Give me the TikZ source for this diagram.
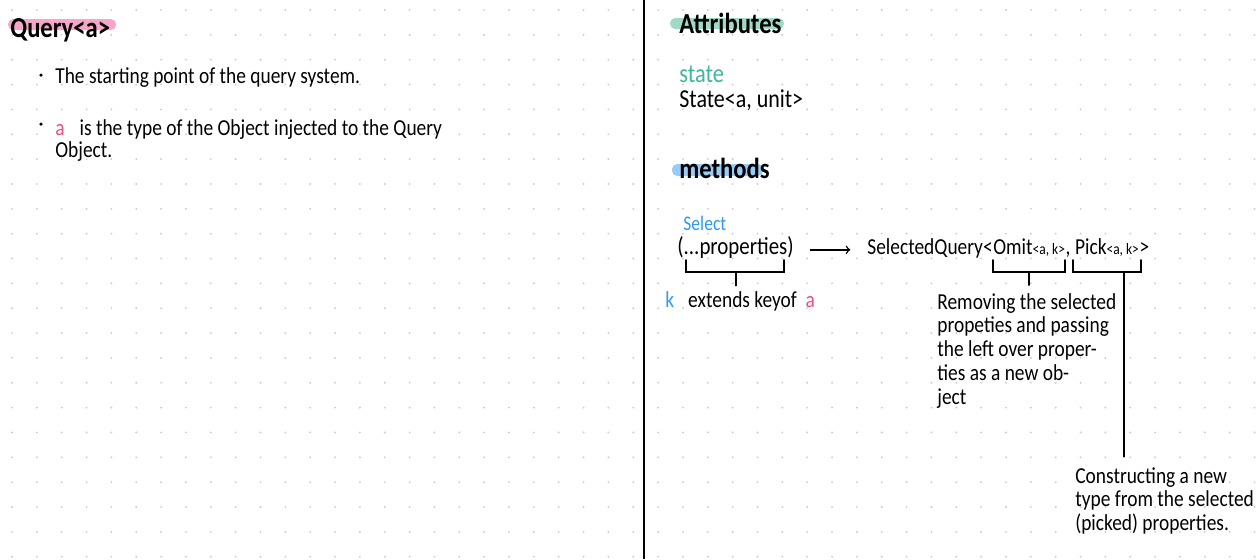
\documentclass[tikz,border=0pt]{standalone}
\usepackage{fontspec}
\setmainfont{Carlito}[FakeStretch=0.85]
\usetikzlibrary{positioning,calc}
\definecolor{hlpink}{RGB}{247,166,201}
\definecolor{txtpink}{RGB}{240,77,135}
\definecolor{hlteal}{RGB}{160,217,200}
\definecolor{txtteal}{RGB}{64,182,156}
\definecolor{hlblue}{RGB}{152,203,245}
\definecolor{txtblue}{RGB}{46,155,240}
\definecolor{griddot}{RGB}{205,205,205}

\begin{document}
\begin{tikzpicture}[x=0.02cm,y=-0.02cm,>=to,
    txt/.style={inner sep=0pt,anchor=base west,align=left,font=\fontsize{13}{14}\selectfont},
    head/.style={txt,font=\fontsize{16.5}{18}\selectfont\bfseries},
    brk/.style={line width=1.1pt,line cap=round},
    hilite/.style={rounded corners=3pt}]
    \fill[white] (0,0) rectangle (1257,559);
    \useasboundingbox (0,0) rectangle (1257,559);
    \foreach \i in {0,...,50}
        \foreach \j in {0,...,22}
            \fill[griddot] (12+24.85*\i,10+24.85*\j) circle[radius=0.6pt];
    \draw[line width=1.2pt] (644,0) -- (644,559);

    \fill[hlpink,hilite] (8,19) rectangle (116,30);
    \node[head] (query) at (10,37) {Query<a>};
    \fill (41,75) circle[radius=1pt];
    \node[txt] (start) at (55,83) {The starting point of the query system.};
    \fill (41,124) circle[radius=1pt];
    \node[txt,font=\fontsize{13}{12.5}\selectfont] (inject) at (55,157)
        {\textcolor{txtpink}{a}\hspace{6pt} is the type of the Object injected to the Query\\Object.};

    \fill[hlteal,hilite] (670,18) rectangle (784,29);
    \node[head] (attr) at (679,33) {Attributes};
    \node[txt,text=txtteal,font=\fontsize{15}{15}\selectfont] (state) at (679,82) {state};
    \node[txt,font=\fontsize{14.7}{15}\selectfont] (statety) at (679,107) {State<a, unit>};
    \fill[hlblue,hilite] (672,164) rectangle (763,176);
    \node[head] (meth) at (679,178) {methods};

    \node[txt,text=txtblue,font=\fontsize{11.8}{12}\selectfont] (select) at (683,230) {Select};
    \node[txt,font=\fontsize{14}{14}\selectfont] (props) at (677,254) {(...properties)};
    \node[txt] (kext) at (665,307)
        {\textcolor{txtblue}{k}\hspace{8pt}extends keyof\hspace{5pt}\textcolor{txtpink}{a}};
    \draw[brk] ($(props.base west)+(9,6)$) -- ++(0,12) -| ($(props.base east)+(-10,6)$);
    \draw[brk,shorten >=3pt] ($(props.base)+(0,18)$) -- (props.base |- kext.north);

    \node[txt] (sq) at (867,254) {SelectedQuery<};
    \node[txt,right=0pt of sq.base east,anchor=base west] (omit) {Omit{\small<a, k>}};
    \node[txt,right=0pt of omit.base east,anchor=base west] (comma) {,\,};
    \node[txt,right=0pt of comma.base east,anchor=base west] (pick) {Pick{\small<a, k>}};
    \node[txt,right=0pt of pick.base east,anchor=base west] (close) {>};
    \draw[->,line width=0.8pt,shorten <=9pt,shorten >=9.5pt] (props.mid east) -- (props.mid east -| sq.west);

    \node[txt,font=\fontsize{13}{13.5}\selectfont] (remove) at (937,404)
        {Removing the selected\\propeties and passing\\the left over proper-\\ties as a new ob-\\ject};
    \draw[brk] ($(omit.base west)+(0,6)$) -- ++(0,12) -| ($(omit.base east)+(0,6)$);
    \draw[brk,shorten >=4.5pt] ($(omit.base)+(0,18)$) -- (omit.base |- remove.north);

    \node[txt,font=\fontsize{13}{13.3}\selectfont] (cons) at (1075,530)
        {Constructing a new\\type from the selected\\(picked) properties.};
    \draw[brk] ($(pick.base west)+(-2,6)$) -- ++(0,12) -| ($(pick.base east)+(2,6)$);
    \coordinate (pstem) at ($(pick.base east)+(-15,18)$);
    \draw[brk,shorten >=6pt] (pstem) -- (pstem |- cons.north);
\end{tikzpicture}
\end{document}
